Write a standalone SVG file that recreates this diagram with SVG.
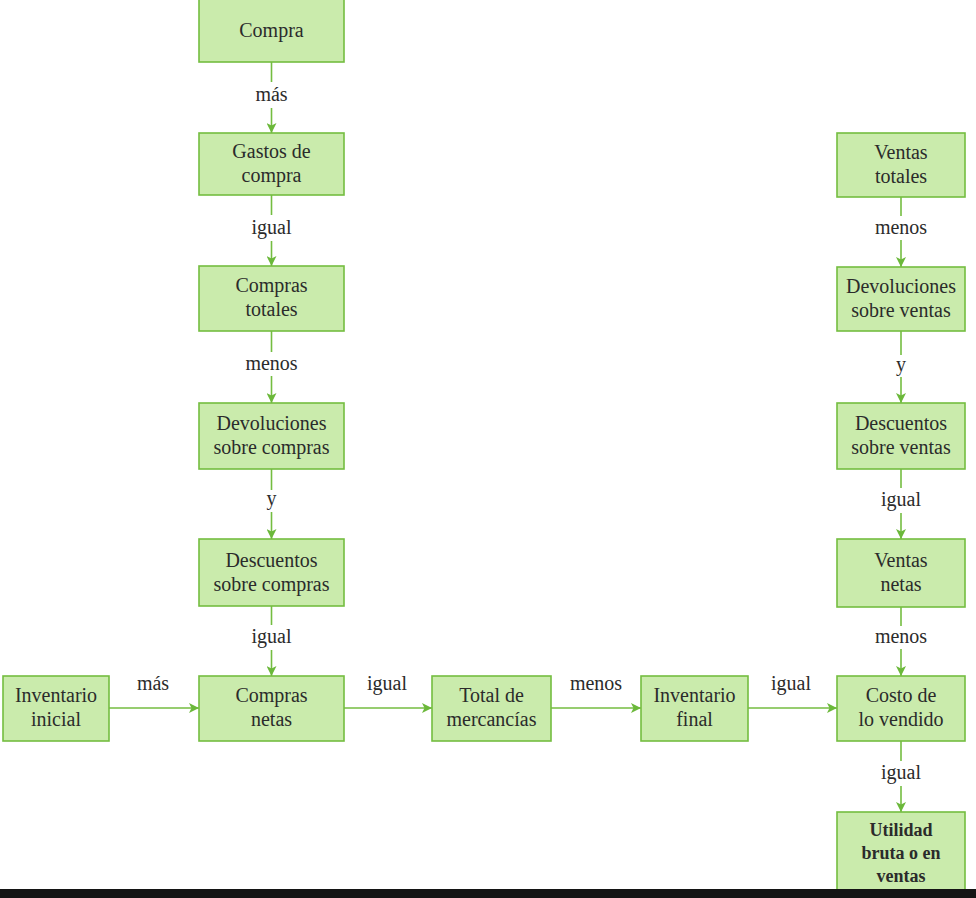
<svg xmlns="http://www.w3.org/2000/svg" width="976" height="898" viewBox="0 0 976 898">
<style>
.box{fill:#caebac;stroke:#74bd40;stroke-width:1.6}
.t{font-family:"Liberation Serif",serif;font-size:20px;fill:#2b2b2b;text-anchor:middle}
.b{font-weight:bold;font-size:18px}
.ln{stroke:#74bd40;stroke-width:1.6;fill:none}
</style>
<defs>
<marker id="ah" viewBox="0 0 10 10" refX="10" refY="5" markerWidth="10" markerHeight="10" markerUnits="userSpaceOnUse" orient="auto">
<path d="M0,0 L10,5 L0,10 L2.5,5 Z" fill="#6bb83a"/>
</marker>
</defs>
<rect x="0" y="0" width="976" height="898" fill="#ffffff"/>
<g id="connectors">
<line class="ln" x1="271.5" y1="62" x2="271.5" y2="82"/><line class="ln" x1="271.5" y1="108" x2="271.5" y2="133" marker-end="url(#ah)"/>
<line class="ln" x1="271.5" y1="195" x2="271.5" y2="215"/><line class="ln" x1="271.5" y1="241" x2="271.5" y2="266" marker-end="url(#ah)"/>
<line class="ln" x1="271.5" y1="331" x2="271.5" y2="352"/><line class="ln" x1="271.5" y1="376" x2="271.5" y2="403" marker-end="url(#ah)"/>
<line class="ln" x1="271.5" y1="469" x2="271.5" y2="490"/><line class="ln" x1="271.5" y1="512" x2="271.5" y2="539" marker-end="url(#ah)"/>
<line class="ln" x1="271.5" y1="606" x2="271.5" y2="625"/><line class="ln" x1="271.5" y1="650" x2="271.5" y2="676" marker-end="url(#ah)"/>
<line class="ln" x1="901" y1="197" x2="901" y2="216"/><line class="ln" x1="901" y1="240" x2="901" y2="267" marker-end="url(#ah)"/>
<line class="ln" x1="901" y1="331" x2="901" y2="355"/><line class="ln" x1="901" y1="377" x2="901" y2="403" marker-end="url(#ah)"/>
<line class="ln" x1="901" y1="469" x2="901" y2="488"/><line class="ln" x1="901" y1="513" x2="901" y2="539" marker-end="url(#ah)"/>
<line class="ln" x1="901" y1="607" x2="901" y2="626"/><line class="ln" x1="901" y1="649" x2="901" y2="676" marker-end="url(#ah)"/>
<line class="ln" x1="901" y1="741" x2="901" y2="761"/><line class="ln" x1="901" y1="786" x2="901" y2="812" marker-end="url(#ah)"/>
<line class="ln" x1="109" y1="708" x2="199" y2="708" marker-end="url(#ah)"/>
<line class="ln" x1="344" y1="708" x2="432" y2="708" marker-end="url(#ah)"/>
<line class="ln" x1="551" y1="708" x2="641" y2="708" marker-end="url(#ah)"/>
<line class="ln" x1="748" y1="708" x2="837" y2="708" marker-end="url(#ah)"/>
<text class="t" x="271.5" y="101">más</text>
<text class="t" x="271.5" y="234">igual</text>
<text class="t" x="271.5" y="370">menos</text>
<text class="t" x="271.5" y="505">y</text>
<text class="t" x="271.5" y="643">igual</text>
<text class="t" x="901" y="234">menos</text>
<text class="t" x="901" y="371">y</text>
<text class="t" x="901" y="506">igual</text>
<text class="t" x="901" y="643">menos</text>
<text class="t" x="901" y="779">igual</text>
<text class="t" x="153" y="690">más</text>
<text class="t" x="387" y="690">igual</text>
<text class="t" x="596" y="690">menos</text>
<text class="t" x="791" y="690">igual</text>
</g>
<g id="compra"><rect class="box" x="199" y="-2" width="145" height="64"/><text class="t" x="271.5" y="37">Compra</text></g>
<g id="gastos"><rect class="box" x="199" y="133" width="145" height="62"/><text class="t" x="271.5" y="158">Gastos de</text><text class="t" x="271.5" y="182">compra</text></g>
<g id="comprastotales"><rect class="box" x="199" y="266" width="145" height="65"/><text class="t" x="271.5" y="292">Compras</text><text class="t" x="271.5" y="316">totales</text></g>
<g id="devcompras"><rect class="box" x="199" y="403" width="145" height="66"/><text class="t" x="271.5" y="430">Devoluciones</text><text class="t" x="271.5" y="454">sobre compras</text></g>
<g id="desccompras"><rect class="box" x="199" y="539" width="145" height="67"/><text class="t" x="271.5" y="567">Descuentos</text><text class="t" x="271.5" y="591">sobre compras</text></g>
<g id="comprasnetas"><rect class="box" x="199" y="676" width="145" height="65"/><text class="t" x="271.5" y="702">Compras</text><text class="t" x="271.5" y="726">netas</text></g>
<g id="invinicial"><rect class="box" x="3" y="676" width="106" height="65"/><text class="t" x="56" y="702">Inventario</text><text class="t" x="56" y="726">inicial</text></g>
<g id="totalmerc"><rect class="box" x="432" y="676" width="119" height="65"/><text class="t" x="491.5" y="702">Total de</text><text class="t" x="491.5" y="726">mercancías</text></g>
<g id="invfinal"><rect class="box" x="641" y="676" width="107" height="65"/><text class="t" x="694.5" y="702">Inventario</text><text class="t" x="694.5" y="726">final</text></g>
<g id="costo"><rect class="box" x="837" y="676" width="128" height="65"/><text class="t" x="901" y="702">Costo de</text><text class="t" x="901" y="726">lo vendido</text></g>
<g id="ventastotales"><rect class="box" x="837" y="133" width="128" height="64"/><text class="t" x="901" y="159">Ventas</text><text class="t" x="901" y="183">totales</text></g>
<g id="devventas"><rect class="box" x="837" y="267" width="128" height="64"/><text class="t" x="901" y="293">Devoluciones</text><text class="t" x="901" y="317">sobre ventas</text></g>
<g id="descventas"><rect class="box" x="837" y="403" width="128" height="66"/><text class="t" x="901" y="430">Descuentos</text><text class="t" x="901" y="454">sobre ventas</text></g>
<g id="ventasnetas"><rect class="box" x="837" y="539" width="128" height="68"/><text class="t" x="901" y="567">Ventas</text><text class="t" x="901" y="591">netas</text></g>
<g id="utilidad"><rect class="box" x="837" y="812" width="128" height="80"/><text class="t b" x="901" y="836">Utilidad</text><text class="t b" x="901" y="859">bruta o en</text><text class="t b" x="901" y="882">ventas</text></g>
<rect x="0" y="889" width="976" height="9" fill="#141414"/>
</svg>
